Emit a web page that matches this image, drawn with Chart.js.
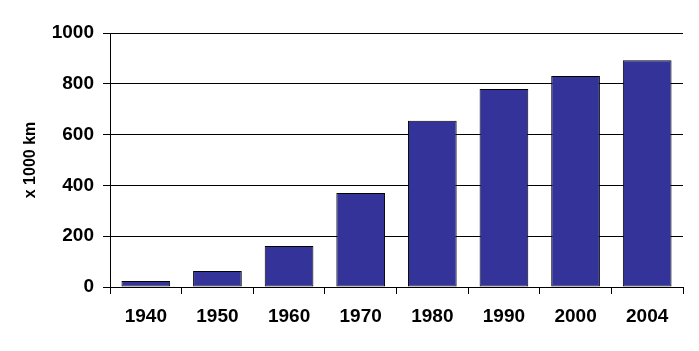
<!DOCTYPE html>
<html>
<head>
<meta charset="utf-8">
<script src="https://cdn.jsdelivr.net/npm/chart.js@4.4.0/dist/chart.umd.min.js"></script>
<style>
  html, body { margin: 0; padding: 0; background: #fff; }
  #wrap { width: 699px; height: 351px; position: relative; }
</style>
</head>
<body>
<div id="wrap"><canvas id="chart"></canvas></div>
<script>
// data
const years = ['1940', '1950', '1960', '1970', '1980', '1990', '2000', '2004'];
const lengthKm = [24, 63, 161, 370, 655, 780, 831, 893];
const yTicks = [0, 200, 400, 600, 800, 1000];

const font = { family: "'Liberation Sans', Arial, sans-serif", weight: 'bold', size: 19 };

new Chart(document.getElementById('chart'), {
  type: 'bar',
  data: {
    labels: years,
    datasets: [{
      data: lengthKm,
      backgroundColor: '#333399',
      borderColor: '#000000',
      borderWidth: 1,
      borderSkipped: false,
      barPercentage: 0.68,
      categoryPercentage: 1.0
    }]
  },
  options: {
    responsive: true,
    maintainAspectRatio: false,
    animation: false,
    layout: { padding: { top: 33, right: 16, left: 0, bottom: 0 } },
    plugins: { legend: { display: false }, tooltip: { enabled: false } },
    scales: {
      x: {
        grid: { offset: true, drawOnChartArea: false, color: '#000', tickLength: 7 },
        border: { color: '#000', width: 1 },
        ticks: { color: '#000', font: font, padding: 11, maxRotation: 0 },
        afterFit: (scale) => { scale.height = 64; }
      },
      y: {
        min: 0,
        max: 1000,
        afterBuildTicks: (scale) => { scale.ticks = yTicks.map(v => ({ value: v })); },
        grid: { color: '#000', tickLength: 7 },
        border: { color: '#000', width: 1 },
        ticks: { color: '#000', font: font, padding: 9, callback: (v) => String(v) },
        title: {
          display: true,
          text: 'x 1000 km',
          color: '#000',
          font: { family: font.family, weight: 'bold', size: 16 },
          padding: { top: 21, bottom: 0 }
        },
        afterFit: (scale) => { scale.width = 110; }
      }
    }
  }
});
</script>
</body>
</html>
